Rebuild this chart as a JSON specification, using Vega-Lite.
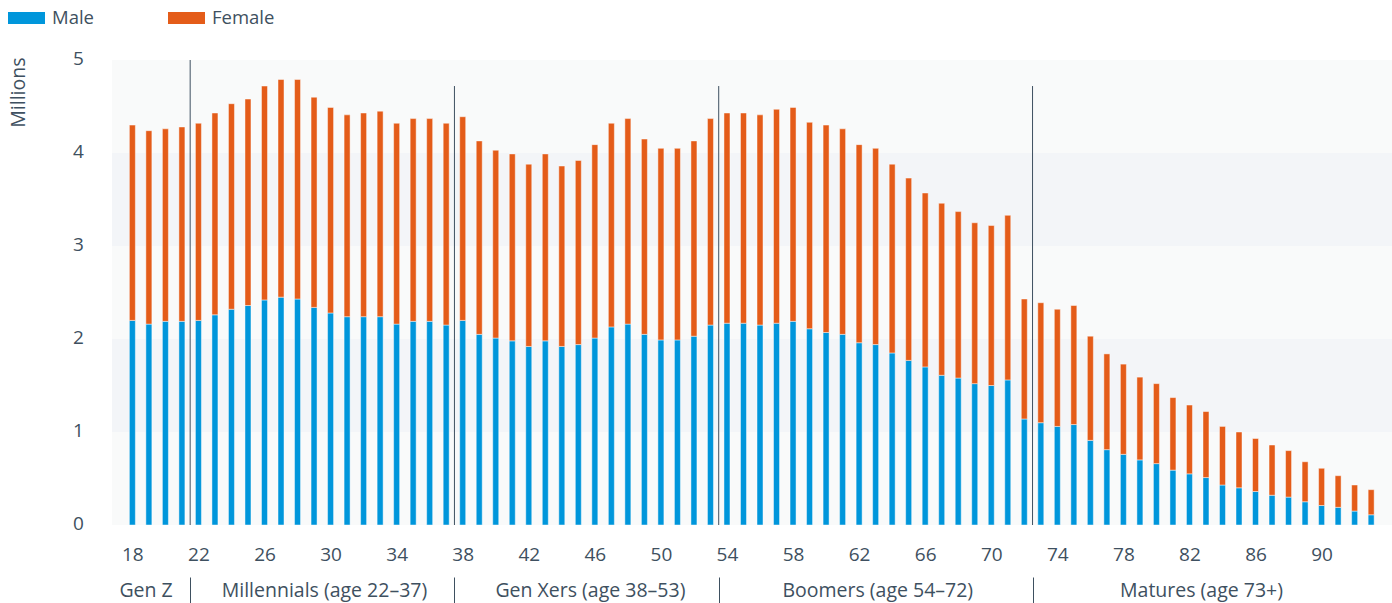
{
  "$schema": "https://vega.github.io/schema/vega-lite/v6.json",
  "width": 1280,
  "height": 465,
  "autosize": {"type": "none"},
  "padding": {"left": 112, "top": 60, "right": 0, "bottom": 78},
  "background": "white",
  "config": {
    "view": {"stroke": null, "fill": "#f9fafa"},
    "font": "Open Sans",
    "axis": {"labelFont": "Open Sans", "titleFont": "Open Sans", "labelColor": "#3e5060", "titleColor": "#3e5060"},
    "legend": {"labelFont": "Open Sans"}
  },
  "datasets": {
    "pop": [
      {"age": 18, "Male": 2.20, "Female": 2.10}, {"age": 19, "Male": 2.16, "Female": 2.08},
      {"age": 20, "Male": 2.19, "Female": 2.07}, {"age": 21, "Male": 2.19, "Female": 2.09},
      {"age": 22, "Male": 2.20, "Female": 2.12}, {"age": 23, "Male": 2.26, "Female": 2.17},
      {"age": 24, "Male": 2.32, "Female": 2.21}, {"age": 25, "Male": 2.36, "Female": 2.22},
      {"age": 26, "Male": 2.42, "Female": 2.30}, {"age": 27, "Male": 2.45, "Female": 2.34},
      {"age": 28, "Male": 2.43, "Female": 2.36}, {"age": 29, "Male": 2.34, "Female": 2.26},
      {"age": 30, "Male": 2.28, "Female": 2.21}, {"age": 31, "Male": 2.24, "Female": 2.17},
      {"age": 32, "Male": 2.24, "Female": 2.19}, {"age": 33, "Male": 2.24, "Female": 2.21},
      {"age": 34, "Male": 2.16, "Female": 2.16}, {"age": 35, "Male": 2.19, "Female": 2.18},
      {"age": 36, "Male": 2.19, "Female": 2.18}, {"age": 37, "Male": 2.15, "Female": 2.17},
      {"age": 38, "Male": 2.20, "Female": 2.19}, {"age": 39, "Male": 2.05, "Female": 2.08},
      {"age": 40, "Male": 2.01, "Female": 2.02}, {"age": 41, "Male": 1.98, "Female": 2.01},
      {"age": 42, "Male": 1.92, "Female": 1.96}, {"age": 43, "Male": 1.98, "Female": 2.01},
      {"age": 44, "Male": 1.92, "Female": 1.94}, {"age": 45, "Male": 1.94, "Female": 1.98},
      {"age": 46, "Male": 2.01, "Female": 2.08}, {"age": 47, "Male": 2.13, "Female": 2.19},
      {"age": 48, "Male": 2.16, "Female": 2.21}, {"age": 49, "Male": 2.05, "Female": 2.10},
      {"age": 50, "Male": 1.99, "Female": 2.06}, {"age": 51, "Male": 1.99, "Female": 2.06},
      {"age": 52, "Male": 2.03, "Female": 2.10}, {"age": 53, "Male": 2.15, "Female": 2.22},
      {"age": 54, "Male": 2.17, "Female": 2.26}, {"age": 55, "Male": 2.17, "Female": 2.26},
      {"age": 56, "Male": 2.15, "Female": 2.26}, {"age": 57, "Male": 2.17, "Female": 2.30},
      {"age": 58, "Male": 2.19, "Female": 2.30}, {"age": 59, "Male": 2.11, "Female": 2.22},
      {"age": 60, "Male": 2.07, "Female": 2.23}, {"age": 61, "Male": 2.05, "Female": 2.21},
      {"age": 62, "Male": 1.96, "Female": 2.13}, {"age": 63, "Male": 1.94, "Female": 2.11},
      {"age": 64, "Male": 1.85, "Female": 2.03}, {"age": 65, "Male": 1.77, "Female": 1.96},
      {"age": 66, "Male": 1.70, "Female": 1.87}, {"age": 67, "Male": 1.61, "Female": 1.85},
      {"age": 68, "Male": 1.58, "Female": 1.79}, {"age": 69, "Male": 1.52, "Female": 1.73},
      {"age": 70, "Male": 1.50, "Female": 1.72}, {"age": 71, "Male": 1.56, "Female": 1.77},
      {"age": 72, "Male": 1.14, "Female": 1.29}, {"age": 73, "Male": 1.10, "Female": 1.29},
      {"age": 74, "Male": 1.06, "Female": 1.26}, {"age": 75, "Male": 1.08, "Female": 1.28},
      {"age": 76, "Male": 0.91, "Female": 1.12}, {"age": 77, "Male": 0.81, "Female": 1.03},
      {"age": 78, "Male": 0.76, "Female": 0.97}, {"age": 79, "Male": 0.70, "Female": 0.89},
      {"age": 80, "Male": 0.66, "Female": 0.86}, {"age": 81, "Male": 0.59, "Female": 0.78},
      {"age": 82, "Male": 0.55, "Female": 0.74}, {"age": 83, "Male": 0.51, "Female": 0.71},
      {"age": 84, "Male": 0.43, "Female": 0.63}, {"age": 85, "Male": 0.40, "Female": 0.60},
      {"age": 86, "Male": 0.36, "Female": 0.57}, {"age": 87, "Male": 0.32, "Female": 0.54},
      {"age": 88, "Male": 0.30, "Female": 0.50}, {"age": 89, "Male": 0.25, "Female": 0.43},
      {"age": 90, "Male": 0.21, "Female": 0.40}, {"age": 91, "Male": 0.19, "Female": 0.34},
      {"age": 92, "Male": 0.15, "Female": 0.28}, {"age": 93, "Male": 0.11, "Female": 0.27}
    ],
    "gens": [
      {"generation": "Gen Z", "from": 18, "to": 21},
      {"generation": "Millennials", "from": 22, "to": 37},
      {"generation": "Gen Xers", "from": 38, "to": 53},
      {"generation": "Boomers", "from": 54, "to": 72},
      {"generation": "Matures", "from": 73, "to": 93}
    ],
    "bands": [
      {"lo": 1, "hi": 2},
      {"lo": 3, "hi": 4}
    ]
  },
  "layer": [
    {
      "data": {"name": "bands"},
      "mark": {"type": "rect", "fill": "#f3f5f8"},
      "encoding": {
        "y": {
          "field": "lo", "type": "quantitative", "scale": {"domain": [0, 5], "nice": false},
          "axis": {
            "orient": "left",
            "values": [0, 1, 2, 3, 4, 5], "domain": false, "ticks": false, "grid": false,
            "labelFontSize": 19, "labelPadding": 34, "labelOffset": -2, "labelAlign": "center",
            "title": "Millions", "titleFontSize": 19.5, "titleFontWeight": "normal",
            "titleAngle": 270, "titleX": -94, "titleY": -3, "titleAlign": "right", "titleBaseline": "middle"
          }
        },
        "y2": {"field": "hi"}
      }
    },
    {
      "data": {"name": "pop"},
      "transform": [{"fold": ["Male", "Female"], "as": ["sex", "millions"]}],
      "mark": {"type": "bar", "size": 6, "stroke": "white", "strokeWidth": 1, "strokeOpacity": 0.45},
      "encoding": {
        "x": {
          "field": "age", "type": "quantitative",
          "scale": {"domain": [17.07, 93.96], "nice": false, "zero": false},
          "axis": {
            "orient": "bottom", "title": null,
            "values": [18, 22, 26, 30, 34, 38, 42, 46, 50, 54, 58, 62, 66, 70, 74, 78, 82, 86, 90],
            "domain": false, "ticks": false, "grid": false,
            "labelFontSize": 19, "labelPadding": 20, "labelFlush": false, "labelOverlap": false
          }
        },
        "y": {
          "field": "millions", "type": "quantitative", "stack": "zero",
          "axis": null
        },
        "color": {
          "field": "sex", "type": "nominal",
          "scale": {"domain": ["Male", "Female"], "range": ["#0096db", "#e45c19"]},
          "legend": {
            "orient": "none", "legendX": -104, "legendY": -60.5, "direction": "horizontal",
            "title": null, "padding": 0,
            "symbolType": "M-1,-0.324L1,-0.324L1,0.324L-1,0.324Z", "symbolSize": 1369,
            "symbolStrokeWidth": 0, "symbolOpacity": 1,
            "labelFontSize": 18.5, "labelColor": "#3e5060", "labelOffset": 7, "columnPadding": 74
          }
        },
        "order": {"field": "sex", "sort": "descending"}
      }
    },
    {
      "data": {"name": "gens"},
      "transform": [{"filter": "datum.from == 22"}, {"calculate": "datum.from - 0.5", "as": "boundary"}],
      "mark": {"type": "rule", "color": "#3e5060", "strokeWidth": 1},
      "encoding": {
        "x": {"field": "boundary", "type": "quantitative", "axis": null},
        "y": {"datum": 5, "type": "quantitative", "axis": null},
        "y2": {"datum": 0}
      }
    },
    {
      "data": {"name": "gens"},
      "transform": [{"filter": "datum.from > 22"}, {"calculate": "datum.from - 0.5", "as": "boundary"}],
      "mark": {"type": "rule", "color": "#3e5060", "strokeWidth": 1},
      "encoding": {
        "x": {
          "field": "boundary", "type": "quantitative",
          "axis": {
            "orient": "bottom", "offset": 52, "title": null,
            "values": [21.5, 37.5, 53.5, 72.5, 18.8, 29.6, 45.7, 63.1, 82.7],
            "domain": false, "grid": false, "ticks": true, "tickSize": 26,
            "tickColor": "#3e5060", "tickWidth": 1,
            "tickOpacity": {"condition": {"test": "datum.value % 1 == 0.5", "value": 1}, "value": 0},
            "labelExpr": "datum.value == 18.8 ? 'Gen Z' : datum.value == 29.6 ? 'Millennials (age 22–37)' : datum.value == 45.7 ? 'Gen Xers (age 38–53)' : datum.value == 63.1 ? 'Boomers (age 54–72)' : datum.value == 82.7 ? 'Matures (age 73+)' : ''",
            "labelFontSize": 19.5, "labelBaseline": "middle", "labelPadding": -13, "labelLimit": 400,
            "labelFlush": false, "labelOverlap": false, "labelBound": false
          }
        },
        "y": {"datum": 4.72, "type": "quantitative", "axis": null},
        "y2": {"datum": 0}
      }
    }
  ],
  "resolve": {"axis": {"x": "independent", "y": "independent"}}
}
